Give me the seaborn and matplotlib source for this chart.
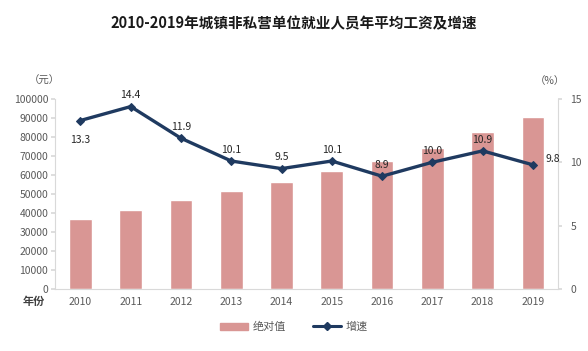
import numpy as np
import pandas as pd
import seaborn as sns
import matplotlib.pyplot as plt
from matplotlib.patches import Patch
from matplotlib.lines import Line2D

years = ['2010', '2011', '2012', '2013', '2014', '2015', '2016', '2017', '2018', '2019']
wages = [36539, 41799, 46769, 51483, 56360, 62029, 67569, 74318, 82413, 90501]
growth = [13.3, 14.4, 11.9, 10.1, 9.5, 10.1, 8.9, 10.0, 10.9, 9.8]

sns.set_theme(style='white')
plt.rcParams['font.family'] = ['Noto Sans CJK SC', 'DejaVu Sans']

df = pd.DataFrame({'year': years, 'wage': wages, 'growth': growth, 'pos': np.arange(len(years))})

fig = plt.figure(figsize=(5.88, 3.51), dpi=100)
ax = fig.add_axes([0.094, 0.177, 0.855, 0.541])
ax2 = ax.twinx()

bar_color = '#D99694'
line_color = '#1F3A60'
grey = '#595959'

sns.barplot(data=df, x='year', y='wage', color=bar_color, width=0.45, saturation=1, ax=ax)
sns.lineplot(data=df, x='pos', y='growth', color=line_color, lw=2.4, marker='D',
             markersize=4.5, markeredgecolor=line_color, ax=ax2)

ax.set_ylim(0, 100000)
ax.set_yticks(range(0, 100001, 10000))
ax2.set_ylim(0, 15)
ax2.set_yticks([0, 5, 10, 15])
ax.set_xlim(-0.5, 9.5)
ax.set_xlabel('')
ax.set_ylabel('')
ax2.set_ylabel('')

for a in (ax, ax2):
    for s in a.spines.values():
        s.set_visible(False)
ax.spines['left'].set_visible(True)
ax.spines['bottom'].set_visible(True)
ax2.spines['right'].set_visible(True)
for s in (ax.spines['left'], ax.spines['bottom'], ax2.spines['right']):
    s.set_color('#D9D9D9')
    s.set_linewidth(0.8)

ax.tick_params(axis='y', length=3, color='#D9D9D9', labelsize=7.5, labelcolor=grey, pad=2, left=True)
ax.tick_params(axis='x', length=0, labelsize=7.5, labelcolor=grey, pad=6)
ax2.tick_params(axis='y', length=3, color='#D9D9D9', labelsize=7.5, labelcolor=grey, pad=6, right=True)

# data labels
for i, g in enumerate(growth):
    if i == 0:
        ax2.annotate(f'{g:.1f}', (i, g), xytext=(0, -16), textcoords='offset points',
                     ha='center', fontsize=7.5, color='#262626')
    elif i == len(growth) - 1:
        ax2.annotate(f'{g:.1f}', (i, g), xytext=(14, 2), textcoords='offset points',
                     ha='center', fontsize=7.5, color='#262626')
    else:
        ax2.annotate(f'{g:.1f}', (i, g), xytext=(0, 6), textcoords='offset points',
                     ha='center', fontsize=7.5, color='#262626')

fig.text(0.5, 0.92, '2010-2019年城镇非私营单位就业人员年平均工资及增速', ha='center',
         fontsize=10.5, fontweight='bold', color='#1a1a1a')
fig.text(0.075, 0.762, '（元）', ha='center', fontsize=7.5, color=grey)
fig.text(0.935, 0.762, '（%）', ha='center', fontsize=7.5, color=grey)
fig.text(0.058, 0.13, '年份', ha='center', fontsize=8, fontweight='bold', color='#404040')

# legend
handles = [Patch(color=bar_color),
           Line2D([0], [0], color=line_color, lw=2.2, marker='D', markersize=4)]
fig.legend(handles, ['绝对值', '增速'], loc='center', bbox_to_anchor=(0.5, 0.068), ncol=2,
           frameon=False, fontsize=8, handlelength=2.5, columnspacing=2.5,
           labelcolor=grey, handletextpad=0.4)

fig.savefig('out.png', dpi=100)
